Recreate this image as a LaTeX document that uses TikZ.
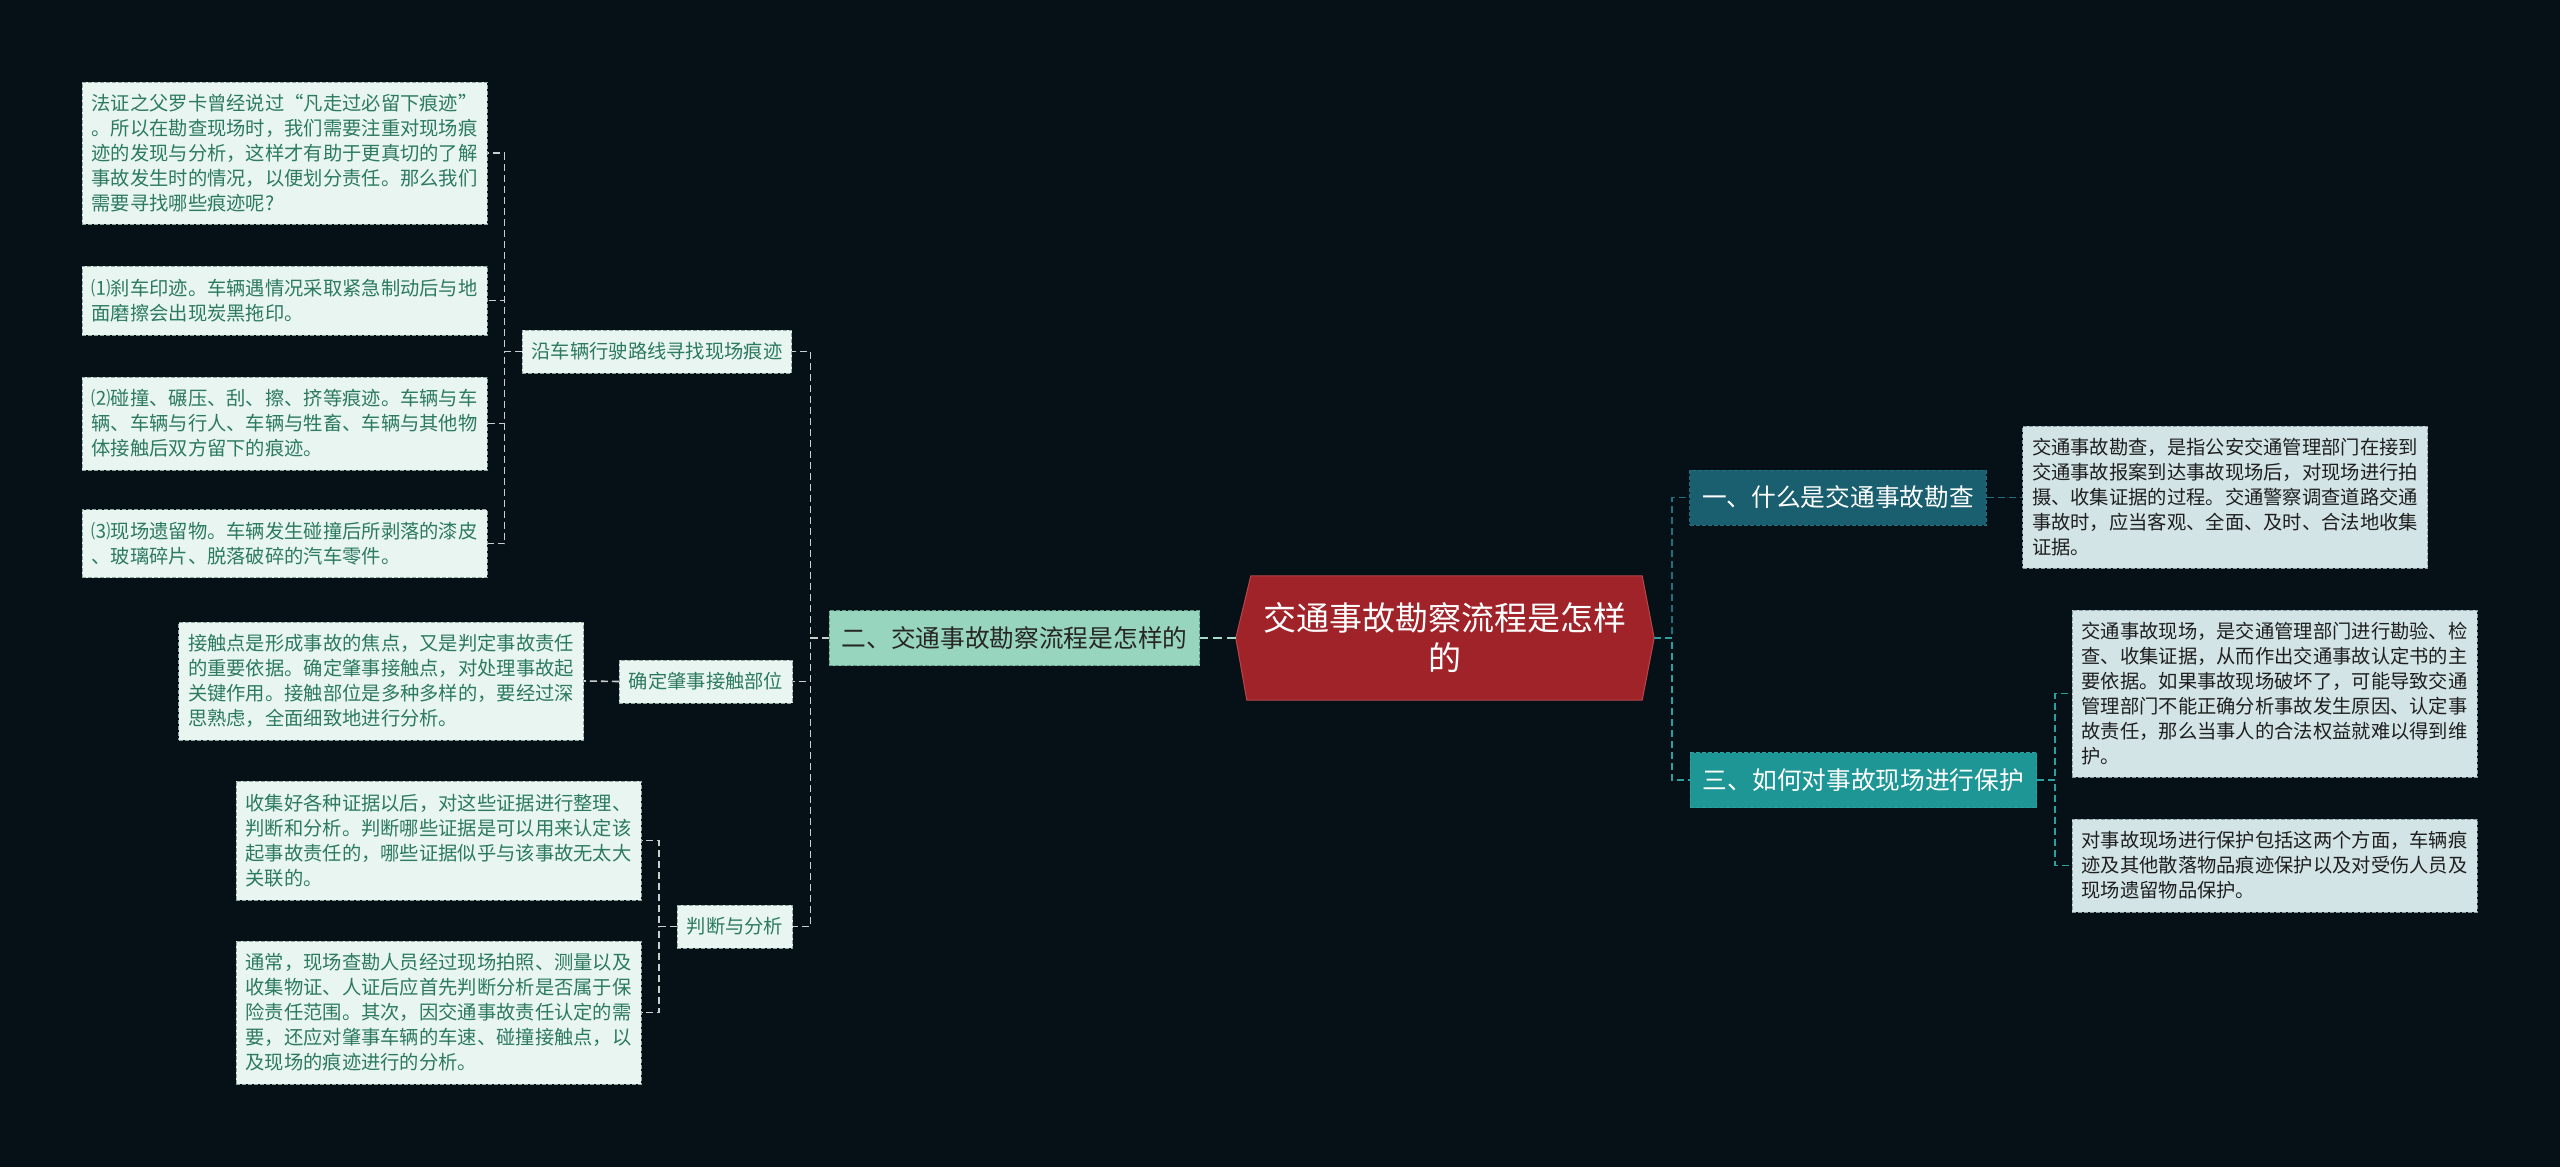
\documentclass[tikz,border=0pt]{standalone}
\usepackage{fontspec}
\newfontfamily\cjk{Noto Sans CJK SC}
\usetikzlibrary{calc,backgrounds}
\definecolor{bg}{HTML}{061017}
\definecolor{leafL}{HTML}{E9F5F0}
\definecolor{leafLtext}{HTML}{2C7A60}
\definecolor{leafLborder}{HTML}{8FA8A0}
\definecolor{leafR}{HTML}{D3E4E7}
\definecolor{leafRborder}{HTML}{8A9EA3}
\definecolor{mint}{HTML}{98D5BF}
\definecolor{mintborder}{HTML}{5E9C88}
\definecolor{cred}{HTML}{9F2329}
\definecolor{credborder}{HTML}{B8454A}
\definecolor{tealdark}{HTML}{1A5F6F}
\definecolor{tealdarkline}{HTML}{22707F}
\definecolor{teal}{HTML}{1E9696}
\definecolor{tealline}{HTML}{2AA0A0}
\definecolor{lline}{HTML}{C9CFCF}
\begin{document}
\begin{tikzpicture}[x=1pt,y=-1pt,
  leafbox/.style={draw=leafLborder, dashed, dash pattern=on 4pt off 2pt, line width=1pt, fill=leafL, text=leafLtext,
    font=\cjk\fontsize{19.3}{25}\selectfont, align=left, text width=386pt, inner xsep=9.5pt, inner ysep=0pt},
  rleafbox/.style={leafbox, draw=leafRborder, fill=leafR, text=black!88},
  subnode/.style={draw=leafLborder, dashed, dash pattern=on 4pt off 2pt, line width=1pt, fill=leafL, text=leafLtext,
    font=\cjk\fontsize{19.3}{25}\selectfont, inner xsep=9.5pt, inner ysep=0pt, minimum height=43pt},
  topnode/.style={dashed, dash pattern=on 4pt off 2pt, line width=1pt, font=\cjk\fontsize{24.7}{30}\selectfont,
    inner xsep=12.5pt, inner ysep=0pt, minimum height=55pt},
  lcon/.style={draw=lline, line width=1.6pt, dash pattern=on 7pt off 4pt},
  rconA/.style={draw=tealdarkline, line width=1.8pt, dash pattern=on 7pt off 4pt},
  rconB/.style={draw=tealline, line width=1.8pt, dash pattern=on 7pt off 4pt}
]
\useasboundingbox (0,0) rectangle (2560,1167);
\begin{scope}[on background layer]
\fill[bg] (0,0) rectangle (2560,1167);
\end{scope}

% central node
\node[font=\cjk\fontsize{33}{40}\selectfont, text=white, align=center, text width=390pt,
  minimum width=418pt, minimum height=124pt, inner sep=0pt] (C) at (1445,638)
  {交通事故勘察流程是怎样\\的};
\begin{scope}[on background layer]
\fill[cred, draw=credborder, line width=1pt]
  ($(C.north west)+(15,0)$) -- ($(C.north east)+(-12,0)$) -- (C.east) --
  ($(C.south east)+(-12,0)$) -- ($(C.south west)+(11,0)$) -- (C.west) -- cycle;
\end{scope}

% level 1
\node[topnode, draw=mintborder, fill=mint, text=black!85] (N2) at (1014.5,638) {二、交通事故勘察流程是怎样的};
\node[topnode, draw=tealdarkline, fill=tealdark, text=white] (N1) at (1838,497.5) {一、什么是交通事故勘查};
\node[topnode, draw=tealline, fill=teal, text=white] (N3) at (1863.5,780) {三、如何对事故现场进行保护};

% level 2 (left)
\node[subnode] (S1) at (657,351.5) {沿车辆行驶路线寻找现场痕迹};
\node[subnode] (S2) at (706,681.5) {确定肇事接触部位};
\node[subnode] (S3) at (735,926.5) {判断与分析};

% left leaves
\node[leafbox, minimum height=142pt] (L1) at (284.5,153)
 {法证之父罗卡曾经说过“凡走过必留下痕迹”\\。所以在勘查现场时，我们需要注重对现场痕\\迹的发现与分析，这样才有助于更真切的了解\\事故发生时的情况，以便划分责任。那么我们\\需要寻找哪些痕迹呢?};
\node[leafbox, minimum height=69pt] (L2) at (284.5,300.5)
 {⑴刹车印迹。车辆遇情况采取紧急制动后与地\\面磨擦会出现炭黑拖印。};
\node[leafbox, minimum height=93pt] (L3) at (284.5,423.5)
 {⑵碰撞、碾压、刮、擦、挤等痕迹。车辆与车\\辆、车辆与行人、车辆与牲畜、车辆与其他物\\体接触后双方留下的痕迹。};
\node[leafbox, minimum height=68pt] (L4) at (284.5,543.5)
 {⑶现场遗留物。车辆发生碰撞后所剥落的漆皮\\、玻璃碎片、脱落破碎的汽车零件。};
\node[leafbox, minimum height=118pt] (K1) at (381,681)
 {接触点是形成事故的焦点，又是判定事故责任\\的重要依据。确定肇事接触点，对处理事故起\\关键作用。接触部位是多种多样的，要经过深\\思熟虑，全面细致地进行分析。};
\node[leafbox, minimum height=119pt] (M1) at (438.5,840.5)
 {收集好各种证据以后，对这些证据进行整理、\\判断和分析。判断哪些证据是可以用来认定该\\起事故责任的，哪些证据似乎与该事故无太大\\关联的。};
\node[leafbox, minimum height=143pt] (M2) at (438.5,1012.5)
 {通常，现场查勘人员经过现场拍照、测量以及\\收集物证、人证后应首先判断分析是否属于保\\险责任范围。其次，因交通事故责任认定的需\\要，还应对肇事车辆的车速、碰撞接触点，以\\及现场的痕迹进行的分析。};

% right leaves
\node[rleafbox, minimum height=142pt] (R1) at (2225,497)
 {交通事故勘查，是指公安交通管理部门在接到\\交通事故报案到达事故现场后，对现场进行拍\\摄、收集证据的过程。交通警察调查道路交通\\事故时，应当客观、全面、及时、合法地收集\\证据。};
\node[rleafbox, minimum height=167pt] (R2) at (2274.5,693.5)
 {交通事故现场，是交通管理部门进行勘验、检\\查、收集证据，从而作出交通事故认定书的主\\要依据。如果事故现场破坏了，可能导致交通\\管理部门不能正确分析事故发生原因、认定事\\故责任，那么当事人的合法权益就难以得到维\\护。};
\node[rleafbox, minimum height=93pt] (R3) at (2274.5,865.5)
 {对事故现场进行保护包括这两个方面，车辆痕\\迹及其他散落物品痕迹保护以及对受伤人员及\\现场遗留物品保护。};

% connectors
\begin{scope}[on background layer]
\draw[draw=mint!85!white, line width=2pt, dash pattern=on 9pt off 5pt] (C.west) -- (N2.east);
\draw[rconA] (C.east) -- ($(C.east)+(18,0)$) |- (N1.west);
\draw[rconB] (C.east) -- ($(C.east)+(18,0)$) |- (N3.west);
\draw[rconA] (N1.east) -- (N1.east -| R1.west);
\draw[rconB] (N3.east) -- ($(N3.east)+(18,0)$) |- (R2.west);
\draw[rconB] (N3.east) -- ($(N3.east)+(18,0)$) |- (R3.west);

\draw[lcon] (N2.west) -- ($(N2.west)+(-18,0)$) |- (S1.east);
\draw[lcon] (N2.west) -- ($(N2.west)+(-18,0)$) |- (S2.east);
\draw[lcon] (N2.west) -- ($(N2.west)+(-18,0)$) |- (S3.east);

\draw[lcon] (S1.west) -- ($(S1.west)+(-17,0)$) |- (L1.east);
\draw[lcon] (S1.west) -- ($(S1.west)+(-17,0)$) |- (L2.east);
\draw[lcon] (S1.west) -- ($(S1.west)+(-17,0)$) |- (L3.east);
\draw[lcon] (S1.west) -- ($(S1.west)+(-17,0)$) |- (L4.east);

\draw[lcon] (S2.west) -- (K1.east);

\draw[lcon] (S3.west) -- ($(S3.west)+(-18,0)$) |- (M1.east);
\draw[lcon] (S3.west) -- ($(S3.west)+(-18,0)$) |- (M2.east);
\end{scope}
\end{tikzpicture}
\end{document}
